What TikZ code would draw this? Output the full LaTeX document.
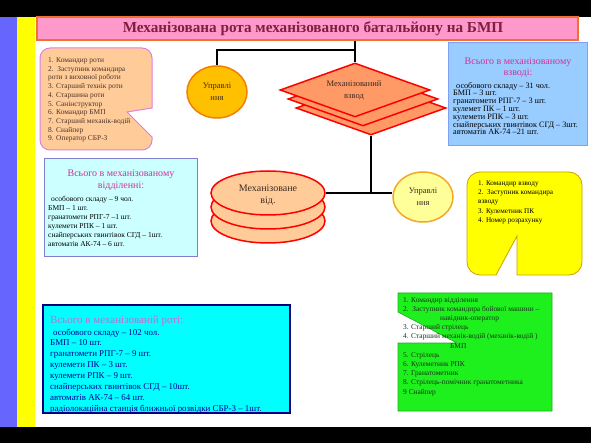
\documentclass[tikz,border=0pt]{standalone}
\usepackage{fontspec}
\setmainfont{Liberation Serif}
\usetikzlibrary{shapes.geometric}
\definecolor{stripblue}{HTML}{6666FF}
\definecolor{stripyellow}{HTML}{FFFF00}
\definecolor{titlepink}{HTML}{FF99CC}
\definecolor{titleborder}{HTML}{F07030}
\definecolor{titletext}{HTML}{7F1F3F}
\definecolor{uprfill}{HTML}{FFC000}
\definecolor{uprborder}{HTML}{F08000}
\definecolor{diafill}{HTML}{FF9966}
\definecolor{peach}{HTML}{FFCC99}
\definecolor{lightyel}{HTML}{FFFF99}
\definecolor{lightyelborder}{HTML}{F5A623}
\definecolor{orchidb}{HTML}{E07FE0}
\definecolor{bluefill}{HTML}{99CCFF}
\definecolor{blueborder}{HTML}{7F9FFF}
\definecolor{lcyan}{HTML}{CCFFFF}
\definecolor{lcyanborder}{HTML}{7F7FD0}
\definecolor{yelborder}{HTML}{C8A000}
\definecolor{greenfill}{HTML}{1EF01E}
\definecolor{greenborder}{HTML}{22AA22}
\definecolor{cyanfill}{HTML}{00FFFF}
\definecolor{navy}{HTML}{000080}
\definecolor{headpink}{HTML}{CC3399}
\definecolor{headlav}{HTML}{C070D0}
\definecolor{navytext}{HTML}{000099}
\definecolor{ink}{HTML}{3D2B1F}
\definecolor{browntext}{HTML}{4D3326}
\definecolor{greentext}{HTML}{1A331A}
\begin{document}
\begin{tikzpicture}[x=1pt,y=-1pt,
  conn/.style={draw=black,line width=1.8pt},
  diabox/.style={diamond,draw=red,fill=diafill,line width=1.5pt,minimum width=150pt,minimum height=54pt,inner sep=0pt},
  ellbox/.style={ellipse,draw=red,fill=peach,line width=1.5pt,minimum width=114pt,minimum height=44pt,inner sep=0pt},
  shapetext/.style={align=center,inner sep=0pt,text=ink},
  txt/.style={anchor=north west,inner sep=0pt,align=left},
  head/.style={anchor=north,inner sep=0pt,align=center}
]
\useasboundingbox (0,0) rectangle (591,443);
\fill[black] (0,0) rectangle (591,443);
\fill[white] (35,17) rectangle (591,427);
\fill[stripblue] (0,17) rectangle (17,427);
\fill[stripyellow] (17,17) rectangle (35,427);

% title
\node[draw=titleborder,line width=2pt,fill=titlepink,minimum width=541pt,minimum height=23pt,inner sep=0pt] (title) at (307.5,28.5) {};
\node[font=\fontsize{15.2}{17}\selectfont\bfseries,text=titletext,inner sep=0pt] (titletxt) at (313,28.5)
  {Механізована рота механізованого батальйону на БМП};

% diamonds
\node[diabox] (dia3) at (371,108) {};
\node[diabox] (dia2) at (363,99) {};
\node[diabox] (dia1) at (355,90) {};
\node[shapetext,font=\fontsize{8.5}{12}\selectfont] (diat) at (354,90) {Механізований\\взвод};

% management ellipses
\node[ellipse,draw=uprborder,fill=uprfill,line width=1.5pt,minimum width=60pt,minimum height=52pt,inner sep=0pt,
  align=center,text=ink,font=\fontsize{8.5}{12}\selectfont] (upr1) at (217,92) {Управлі\\ння};
\node[ellipse,draw=lightyelborder,fill=lightyel,line width=1.5pt,minimum width=60pt,minimum height=50pt,inner sep=0pt,
  align=center,text=ink,font=\fontsize{8.5}{12}\selectfont] (upr2) at (423,197) {Управлі\\ння};

% stacked ellipses
\node[ellbox] (ell3) at (268,221) {};
\node[ellbox] (ell2) at (268,207) {};
\node[ellbox] (ell1) at (268,193) {};
\node[shapetext,font=\fontsize{10}{12}\selectfont] (ellt) at (268,195) {Механізоване\\від.};

% connectors
\coordinate (j1) at (355,50);
\draw[conn] (title.south -| dia1.north) -- (dia1.north);
\draw[conn] (j1) -| (upr1.north);
\draw[conn] (dia3.south) -- (dia3.south |- ell1.east);
\draw[conn] (ell1.east) -- (ell1.east -| upr2.west);

% orange callout
\filldraw[fill=peach,draw=orchidb,line width=1pt]
  (50,48) -- (142,48) arc[start angle=-90,end angle=0,radius=10]
  -- (152,108) -- (127,112) -- (152,137) -- (152,140) arc[start angle=0,end angle=90,radius=10]
  -- (50,150) arc[start angle=90,end angle=180,radius=10]
  -- (40,58) arc[start angle=180,end angle=270,radius=10] -- cycle;
\node[txt,text=browntext,font=\fontsize{7.4}{8.7}\selectfont] (orangetxt) at (48,57.5)
  {1. Командир роти\\2.\ \ Заступник командира\\роти з виховної роботи\\3. Старший технік роти\\4. Старшина роти\\5. Санінструктор\\6. Командир БМП\\7. Старший механік-водій\\8. Снайпер\\9. Оператор СБР-3};

% blue box (platoon)
\node[draw=blueborder,fill=bluefill,line width=1pt,minimum width=139pt,minimum height=103pt,inner sep=0pt] (platbox) at (517.5,94.5) {};
\node[head,text=headpink,font=\fontsize{10}{11.6}\selectfont] (plathead) at (518,57.5) {Всього в механізованому\\взводі:};
\node[txt,text=black,font=\fontsize{8.2}{7.8}\selectfont] (plattxt) at (453,82)
  {\hspace{3pt}особового складу – 31 чол.\\БМП – 3 шт.\\гранатомети РПГ-7 – 3 шт.\\кулемет ПК – 1 шт.\\кулемети РПК – 3 шт.\\снайперських гвинтівок СГД – 3шт.\\автоматів АК-74 –21 шт.};

% light cyan box (squad)
\node[draw=lcyanborder,fill=lcyan,line width=1pt,minimum width=153pt,minimum height=98pt,inner sep=0pt] (sqbox) at (120.5,208) {};
\node[head,text=headpink,font=\fontsize{10}{12}\selectfont] (sqhead) at (121,170) {Всього в механізованому\\відділенні:};
\node[txt,text=black,font=\fontsize{7.5}{9.1}\selectfont] (sqtxt) at (48,195.5)
  {\hspace{3pt}особового складу – 9 чол.\\БМП – 1 шт.\\гранатомети РПГ-7 –1 шт.\\кулемети РПК – 1 шт.\\снайперських гвинтівок СГД – 1шт.\\автоматів АК-74 – 6 шт.};

% yellow callout
\filldraw[fill=stripyellow,draw=yelborder,line width=0.8pt]
  (480,172) -- (569,172) arc[start angle=-90,end angle=0,radius=13]
  -- (582,262) arc[start angle=0,end angle=90,radius=13]
  -- (517,275) -- (517,236) -- (496,275) -- (480,275) arc[start angle=90,end angle=180,radius=13]
  -- (467,185) arc[start angle=180,end angle=270,radius=13] -- cycle;
\node[txt,text=black,font=\fontsize{7.2}{9.2}\selectfont] (yeltxt) at (478,180.5)
  {1. Командир взводу\\2.\ \ Заступник командира\\взводу\\3. Кулеметник ПК\\4. Номер розрахунку};

% green callout
\filldraw[fill=greenfill,draw=greenborder,line width=0.6pt] (398,293) -- (552,293) -- (552,411) -- (398,411) -- (398,343) -- (457,343) -- (398,312) -- cycle;
\node[txt,text=greentext,font=\fontsize{7.4}{9.2}\selectfont] (greentxt) at (403,297)
  {1. Командир відділення\\2.\ \ Заступник командира бойової машини –\\\hspace{37pt}навідник-оператор\\3. Старший стрілець\\4. Старший механік-водій (механік-водій )\\\hspace{47pt}БМП\\5. Стрілець\\6. Кулеметник РПК\\7. Гранатометник\\8. Стрілець-помічник гранатометника\\9 Снайпер};

% bottom cyan box (company)
\node[draw=navy,fill=cyanfill,line width=2pt,minimum width=247pt,minimum height=108pt,inner sep=0pt] (cobox) at (166.5,359) {};
\node[txt,text=headlav,font=\fontsize{11}{13}\selectfont] (cohead) at (50,315.5) {Всього в механізованій роті:};
\node[txt,text=navytext,font=\fontsize{8.9}{10.9}\selectfont] (cotxt) at (50,328.5)
  {\hspace{3pt}особового складу – 102 чол.\\БМП – 10 шт.\\гранатомети РПГ-7 – 9 шт.\\кулемети ПК – 3 шт.\\кулемети РПК – 9 шт.\\снайперських гвинтівок СГД – 10шт.\\автоматів АК-74 – 64 шт.\\радіолокаційна станція ближньої розвідки СБР-3 – 1шт.};
\end{tikzpicture}
\end{document}
